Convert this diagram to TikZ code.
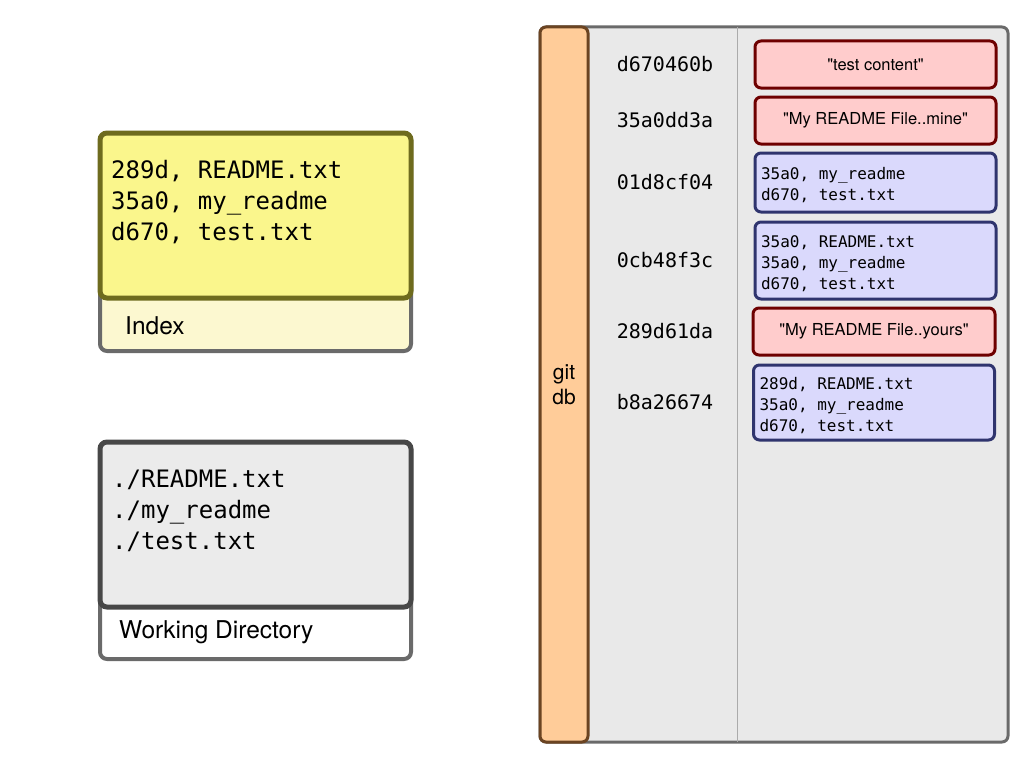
\documentclass[tikz,border=0pt]{standalone}
\usepackage{fontspec}
\setmainfont{TeX Gyre Heros}
\setmonofont{DejaVu Sans Mono}[WordSpace={1,0,0}]
\definecolor{idxfill}{HTML}{FAF68C}
\definecolor{idxline}{HTML}{6E6B1E}
\definecolor{idxback}{HTML}{FCF8D0}
\definecolor{wdfill}{HTML}{EBEBEB}
\definecolor{wdline}{HTML}{474747}
\definecolor{framegray}{HTML}{6A6A6A}
\definecolor{dbfill}{HTML}{E9E9E9}
\definecolor{barfill}{HTML}{FFCC99}
\definecolor{barline}{HTML}{6B4422}
\definecolor{blobfill}{HTML}{FFCCCC}
\definecolor{blobline}{HTML}{6E0000}
\definecolor{treefill}{HTML}{DAD9FC}
\definecolor{treeline}{HTML}{2F346E}
\newcommand{\qq}[1]{\textquotedbl#1\textquotedbl}
\newcommand{\tstrut}{\rule{0pt}{18pt}}
\begin{document}
\begin{tikzpicture}[x=1pt,y=-1pt,
	outerbox/.style={draw=framegray,line width=4pt,rounded corners=7pt},
	bigtt/.style={font=\fontsize{24}{31}\selectfont\ttfamily,inner sep=0pt,anchor=base west},
	caption/.style={font=\fontsize{24.5}{28}\selectfont,inner sep=0pt,anchor=base west},
	hashlbl/.style={font=\fontsize{20}{24}\selectfont\ttfamily},
	blobbox/.style={draw=blobline,fill=blobfill,line width=3pt,rounded corners=6pt,
		minimum width=241pt,minimum height=47pt,font=\fontsize{16.5}{20}\selectfont},
	treebox/.style={draw=treeline,fill=treefill,line width=3pt,rounded corners=6pt,
		text width=229pt,inner xsep=6pt,align=flush left,font=\fontsize{16}{21}\selectfont\ttfamily}]
	\useasboundingbox (0,0) rectangle (1024,768);
	% index
	\draw[outerbox,fill=idxback] (100,133) rectangle (411,351);
	\draw[draw=idxline,fill=idxfill,line width=5pt,rounded corners=7pt] (100,133) rectangle (411,298);
	\foreach \t [count=\i] in {{289d, README.txt},{35a0, my\_readme},{d670, test.txt}}
		\node[bigtt] (idx\i) at (111,{147+31*\i}) {\t};
	\node[caption] (idxcap) at (125,334) {Index};
	% working directory
	\draw[outerbox,fill=white] (100,442) rectangle (411,659);
	\draw[draw=wdline,fill=wdfill,line width=5pt,rounded corners=7pt] (100,442) rectangle (411,607);
	\foreach \t [count=\i] in {./README.txt,./my\_readme,./test.txt}
		\node[bigtt] (wd\i) at (112,{456+31*\i}) {\t};
	\node[caption] (wdcap) at (119,638) {Working Directory};
	% git db
	\draw[draw=framegray,fill=dbfill,line width=3pt,rounded corners=6pt] (540,27) rectangle (1008,742);
	\draw[black!33,line width=1pt] (737,27)--(737,742);
	\draw[draw=barline,fill=barfill,line width=3pt,rounded corners=6pt] (540,27) rectangle (588,742);
	\node[font=\fontsize{21}{25}\selectfont,align=center] (gitdb) at (564,385) {git\\db};
	\node[blobbox] (c1) at (875.5,64.5) {\qq{test content}};
	\node[blobbox] (c2) at (875.5,120.5) {\qq{My README File..mine}};
	\node[treebox,minimum height=59pt] (c3) at (875.5,182.5) {\tstrut35a0, my\_readme\\d670, test.txt};
	\node[treebox,minimum height=77pt] (c4) at (875.5,260.5) {\tstrut35a0, README.txt\\35a0, my\_readme\\d670, test.txt};
	\node[blobbox,minimum width=242pt] (c5) at (874,331.5) {\qq{My README File..yours}};
	\node[treebox,minimum height=75pt] (c6) at (874,402.5) {\tstrut289d, README.txt\\35a0, my\_readme\\d670, test.txt};
	\coordinate (hc) at (665,0);
	\node[hashlbl] (h1) at (c1 -| hc) {d670460b};
	\node[hashlbl] (h2) at (c2 -| hc) {35a0dd3a};
	\node[hashlbl] (h3) at (c3 -| hc) {01d8cf04};
	\node[hashlbl] (h4) at (c4 -| hc) {0cb48f3c};
	\node[hashlbl] (h5) at (c5 -| hc) {289d61da};
	\node[hashlbl] (h6) at (c6 -| hc) {b8a26674};
\end{tikzpicture}
\end{document}
